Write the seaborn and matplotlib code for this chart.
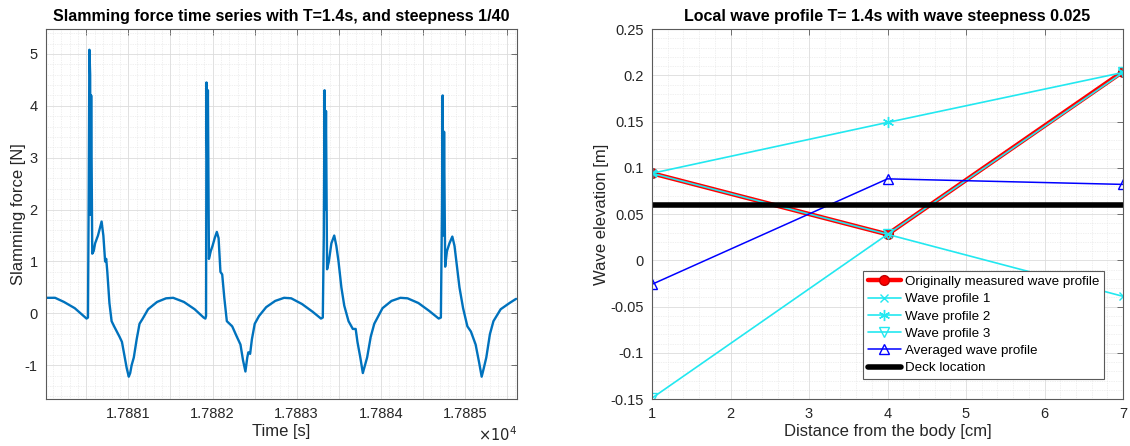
import numpy as np
import pandas as pd
import matplotlib
matplotlib.use("Agg")
import matplotlib.pyplot as plt
from matplotlib.ticker import MultipleLocator, FuncFormatter
import seaborn as sns

# ---- slamming force record (s, N) ----
time_s = [
    17880.021, 17880.128, 17880.234, 17880.362, 17880.468, 17880.502, 17880.519,
    17880.528, 17880.536, 17880.545, 17880.549, 17880.557, 17880.570, 17880.587,
    17880.604, 17880.638, 17880.681, 17880.702, 17880.723, 17880.736, 17880.749,
    17880.774, 17880.800, 17880.830, 17880.894, 17880.923, 17880.945, 17880.979,
    17881.004, 17881.021, 17881.038, 17881.064, 17881.098, 17881.132, 17881.170,
    17881.234, 17881.340, 17881.447, 17881.532, 17881.660, 17881.787, 17881.894,
    17881.915,
    17881.923, 17881.928, 17881.936, 17881.945, 17881.957, 17881.979, 17882.000,
    17882.026, 17882.051, 17882.072, 17882.094, 17882.115, 17882.140, 17882.170,
    17882.234, 17882.289, 17882.332, 17882.362, 17882.391, 17882.413, 17882.426,
    17882.447, 17882.468, 17882.502, 17882.553, 17882.638, 17882.745, 17882.851,
    17882.936, 17883.064, 17883.191, 17883.289,
    17883.311, 17883.323, 17883.332, 17883.340, 17883.349, 17883.362, 17883.383,
    17883.413, 17883.447, 17883.472, 17883.498, 17883.532, 17883.566, 17883.617,
    17883.668, 17883.702, 17883.723, 17883.757, 17883.787, 17883.813, 17883.838,
    17883.881, 17883.923, 17884.021, 17884.128, 17884.234, 17884.319, 17884.447,
    17884.574, 17884.689, 17884.715,
    17884.728, 17884.736, 17884.745, 17884.753, 17884.766, 17884.787, 17884.817,
    17884.851, 17884.877, 17884.906, 17884.936, 17884.979, 17885.030, 17885.072,
    17885.128, 17885.170, 17885.200, 17885.226, 17885.255, 17885.298, 17885.340,
    17885.426, 17885.532, 17885.609,
]
force_n = [
    0.30, 0.30, 0.22, 0.10, -0.05, -0.10, -0.08,
    2.40, 5.08, 4.60, 1.90, 4.20, 1.15, 1.20,
    1.35, 1.50, 1.77, 1.50, 1.00, 1.05, 0.80,
    0.20, -0.15, -0.25, -0.45, -0.55, -0.75, -1.05,
    -1.22, -1.15, -1.00, -0.85, -0.50, -0.20, -0.10,
    0.08, 0.22, 0.29, 0.30, 0.22, 0.08, -0.08,
    -0.10,
    -0.05, 4.45, 3.00, 4.30, 1.05, 1.20, 1.30,
    1.45, 1.57, 1.45, 0.80, 0.75, 0.30, -0.15,
    -0.25, -0.45, -0.60, -0.90, -1.12, -0.85, -0.75,
    -0.78, -0.50, -0.20, -0.05, 0.12, 0.24, 0.30,
    0.29, 0.18, 0.03, -0.10,
    -0.08, 1.50, 4.30, 2.00, 3.90, 0.85, 1.00,
    1.35, 1.50, 1.30, 1.00, 0.50, 0.15, -0.15,
    -0.30, -0.30, -0.55, -0.85, -1.15, -1.00, -0.85,
    -0.45, -0.20, 0.10, 0.24, 0.30, 0.29, 0.20,
    0.05, -0.10, -0.08,
    2.00, 4.20, 1.50, 3.50, 0.90, 1.20, 1.35,
    1.48, 1.30, 0.90, 0.50, 0.10, -0.25, -0.35,
    -0.60, -0.95, -1.22, -1.05, -0.85, -0.40, -0.15,
    0.08, 0.20, 0.28,
]

# ---- local wave profiles ----
distance_cm = [1, 4, 7]
measured_profile = [0.094, 0.028, 0.204]
wave_profile_1 = [0.094, 0.028, -0.039]
wave_profile_2 = [0.094, 0.149, 0.203]
wave_profile_3 = [-0.149, 0.028, 0.203]
averaged_profile = [-0.026, 0.088, 0.082]
deck_level = [0.06, 0.06, 0.06]

sns.set_theme(style="white")
plt.rcParams["font.family"] = ["Liberation Sans", "DejaVu Sans"]
plt.rcParams["axes.unicode_minus"] = False

TXT = "#262626"
EDGE = "#5a5a5a"
CYAN = "#22e8f0"

fig = plt.figure(figsize=(11.30, 4.46), dpi=100)
ax1 = fig.add_axes([46 / 1130, 1 - 399 / 446, 471 / 1130, 370 / 446])
ax2 = fig.add_axes([652 / 1130, 1 - 399 / 446, 471 / 1130, 370 / 446])


def matlab_style(ax):
    for sp in ax.spines.values():
        sp.set_color(EDGE)
        sp.set_linewidth(0.8)
    ax.tick_params(which="major", direction="in", length=4, width=0.6,
                   color=EDGE, top=True, right=True, labelsize=10.5,
                   labelcolor=TXT, pad=6)
    ax.tick_params(which="minor", direction="in", length=0, top=True, right=True)
    ax.grid(which="major", color="#dcdcdc", linewidth=0.6, linestyle="-")
    ax.grid(which="minor", color="#e2e2e2", linewidth=0.5, linestyle=(0, (1, 1.5)))
    ax.set_axisbelow(True)


# left panel: force time series
force_df = pd.DataFrame({"t": time_s, "f": force_n})
sns.lineplot(data=force_df, x="t", y="f", ax=ax1, color="#0072BD",
             linewidth=1.7, estimator=None, sort=False)
ax1.set_xlim(17880.02, 17885.62)
ax1.set_ylim(-1.65, 5.48)
ax1.xaxis.set_major_locator(MultipleLocator(0.5))
ax1.xaxis.set_minor_locator(MultipleLocator(0.1))
ax1.yaxis.set_major_locator(MultipleLocator(1))
ax1.yaxis.set_minor_locator(MultipleLocator(0.2))
ax1.xaxis.set_major_formatter(FuncFormatter(
    lambda v, p: f"{v / 1e4:.4f}" if abs(v - round(v)) < 1e-6 else ""))
ax1.yaxis.set_major_formatter(FuncFormatter(lambda v, p: f"{v:g}"))
matlab_style(ax1)
ax1.set_xlabel("Time [s]", fontsize=12, color=TXT, labelpad=2)
ax1.set_ylabel("Slamming force [N]", fontsize=12, color=TXT, labelpad=-1)
ax1.set_title("Slamming force time series with T=1.4s, and steepness 1/40",
              fontsize=11.5, fontweight="bold", color="black", pad=6)
fig.text(517 / 1130, 2 / 446, r"$\times10^{4}$", ha="right", va="bottom",
         fontsize=10.5, color=TXT)

# right panel: wave profiles
profile_df = pd.DataFrame({
    "x": distance_cm,
    "measured": measured_profile,
    "p1": wave_profile_1,
    "p2": wave_profile_2,
    "p3": wave_profile_3,
    "avg": averaged_profile,
    "deck": deck_level,
})
sns.lineplot(data=profile_df, x="x", y="measured", ax=ax2, color="red",
             linewidth=3.2, marker="o", markersize=7, markerfacecolor="red",
             markeredgecolor="#c00000", markeredgewidth=1.0,
             label="Originally measured wave profile")
sns.lineplot(data=profile_df, x="x", y="p1", ax=ax2, color=CYAN,
             linewidth=1.2, marker="x", markersize=6, markeredgewidth=1.0,
             markeredgecolor=CYAN, label="Wave profile 1")
sns.lineplot(data=profile_df, x="x", y="p2", ax=ax2, color=CYAN,
             linewidth=1.2, marker=(6, 2, 0), markersize=8, markeredgewidth=1.0,
             markeredgecolor=CYAN, label="Wave profile 2")
sns.lineplot(data=profile_df, x="x", y="p3", ax=ax2, color=CYAN,
             linewidth=1.2, marker="v", markersize=7, markerfacecolor="none",
             markeredgecolor=CYAN, markeredgewidth=1.0,
             label="Wave profile 3")
sns.lineplot(data=profile_df, x="x", y="avg", ax=ax2, color="#0000ff",
             linewidth=1.1, marker="^", markersize=7, markerfacecolor="none",
             markeredgecolor="#0000ff", markeredgewidth=1.0,
             label="Averaged wave profile")
sns.lineplot(data=profile_df, x="x", y="deck", ax=ax2, color="black",
             linewidth=4, label="Deck location")
ax2.set_xlim(1, 7)
ax2.set_ylim(-0.15, 0.25)
ax2.xaxis.set_major_locator(MultipleLocator(1))
ax2.xaxis.set_minor_locator(MultipleLocator(0.2))
ax2.yaxis.set_major_locator(MultipleLocator(0.05))
ax2.yaxis.set_minor_locator(MultipleLocator(0.01))
ax2.xaxis.set_major_formatter(FuncFormatter(lambda v, p: f"{v:g}"))
ax2.yaxis.set_major_formatter(FuncFormatter(lambda v, p: f"{round(v, 3):g}"))
matlab_style(ax2)
ax2.set_xlabel("Distance from the body [cm]", fontsize=12, color=TXT, labelpad=2)
ax2.set_ylabel("Wave elevation [m]", fontsize=12, color=TXT, labelpad=1)
ax2.set_title("Local wave profile T= 1.4s with wave steepness 0.025",
              fontsize=11.5, fontweight="bold", color="black", pad=6)
leg = ax2.legend(loc="lower right", bbox_to_anchor=(0.96, 0.054),
                 fontsize=9.6, frameon=True, fancybox=False, framealpha=1,
                 edgecolor=EDGE, handlelength=2.5, handletextpad=0.3,
                 borderpad=0.35, labelspacing=0.37, borderaxespad=0)
leg.get_frame().set_linewidth(0.8)
for t in leg.get_texts():
    t.set_color("black")

fig.savefig("out.png", dpi=100, facecolor="white")
